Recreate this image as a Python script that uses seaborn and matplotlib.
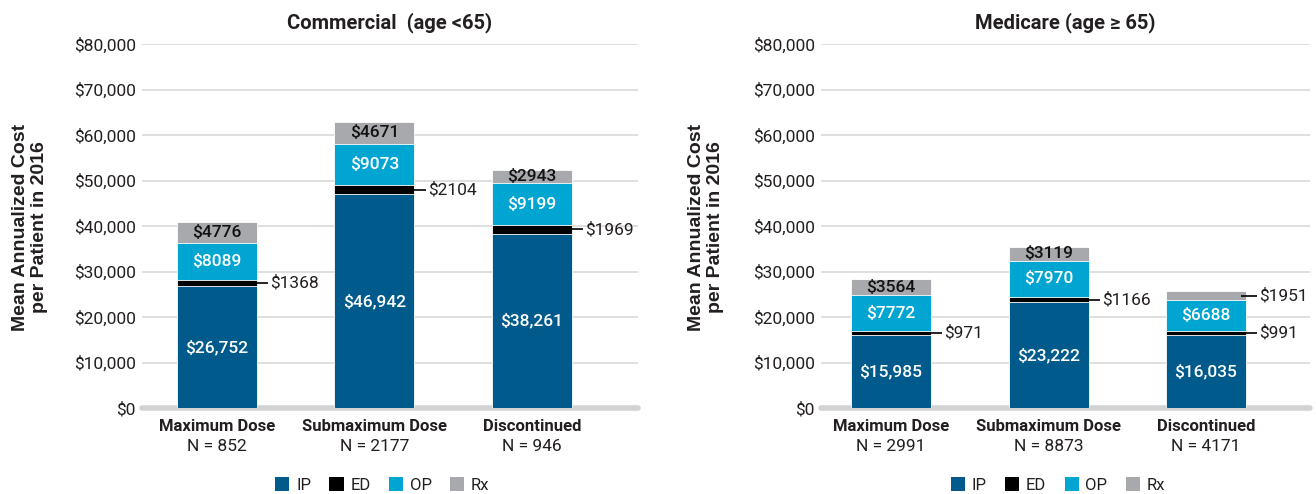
import matplotlib
matplotlib.use("Agg")
import matplotlib.pyplot as plt
import matplotlib.transforms as mtransforms
from matplotlib.patches import Patch
import numpy as np
import pandas as pd
import seaborn as sns

# ---------------- data ----------------
categories = ["Maximum Dose", "Submaximum Dose", "Discontinued"]
components = ["IP", "ED", "OP", "Rx"]

commercial_title = "Commercial  (age <65)"
commercial_n = [852, 2177, 946]
commercial_ip = [26752, 46942, 38261]
commercial_ed = [1368, 2104, 1969]
commercial_op = [8089, 9073, 9199]
commercial_rx = [4776, 4671, 2943]

medicare_title = "Medicare (age \u2265 65)"
medicare_n = [2991, 8873, 4171]
medicare_ip = [15985, 23222, 16035]
medicare_ed = [971, 1166, 991]
medicare_op = [7772, 7970, 6688]
medicare_rx = [3564, 3119, 1951]

y_ticks = [0, 10000, 20000, 30000, 40000, 50000, 60000, 70000, 80000]
y_label = "Mean Annualized Cost\nper Patient in 2016"

# ---------------- style ----------------
sns.set_theme(style="white")
plt.rcParams["font.family"] = ["Roboto", "DejaVu Sans"]

C_IP = "#005A8C"
C_ED = "#000000"
C_OP = "#00A5D1"
C_RX = "#A7A9AC"
colors = [C_IP, C_ED, C_OP, C_RX]
TXT = "#231F20"
GRID = "#DCDCDC"
ZERO = "#D2D3D5"
FS = 12.5

fig = plt.figure(figsize=(13.16, 4.94), dpi=100)
W, H = 1316, 494
ax_bottom = 1 - 408 / H
ax_height = 364 / H
ax_l = fig.add_axes([142 / W, ax_bottom, 496 / W, ax_height])
ax_r = fig.add_axes([821 / W, ax_bottom, 489 / W, ax_height])

BAR_W = 0.508


def draw_panel(ax, title, ns, ip, ed, op, rx, xlim, legend_x):
    df = pd.DataFrame({"cat": categories, "IP": ip, "ED": ed, "OP": op, "Rx": rx})
    layers = ["IP", "ED", "OP", "Rx"]
    cum = df[layers].cumsum(axis=1)
    # draw from the tallest cumulative layer down
    for layer, col in reversed(list(zip(layers, colors))):
        sns.barplot(data=pd.DataFrame({"cat": categories, "v": cum[layer]}),
                    x="cat", y="v", order=categories, color=col,
                    width=BAR_W, saturation=1, edgecolor="white",
                    linewidth=0.6, ax=ax, zorder=3)

    ax.set_xlim(*xlim)
    ax.set_ylim(0, 80000)
    ax.set_yticks(y_ticks)
    ax.set_yticklabels([f"${v:,}" for v in y_ticks], fontsize=FS, color=TXT)
    ax.tick_params(axis="y", length=0, pad=4.5)
    ax.set_xticks([])
    ax.set_xlabel("")
    ax.set_ylabel("")
    for s in ax.spines.values():
        s.set_visible(False)
    for v in y_ticks[1:]:
        ax.axhline(v, color=GRID, lw=1.3, zorder=1)
    ax.axhline(0, color=ZERO, lw=4, zorder=2, clip_on=False)

    ax.set_title(title, fontsize=14.5, fontweight="bold", color=TXT, pad=11)

    trans = mtransforms.blended_transform_factory(ax.transData, ax.transAxes)
    for i, (c, n) in enumerate(zip(categories, ns)):
        ax.text(i, -0.052, c, transform=trans, ha="center", va="center",
                fontsize=12, fontweight="bold", color=TXT)
        ax.text(i, -0.107, f"N = {n}", transform=trans, ha="center",
                va="center", fontsize=FS, color=TXT)

    half = BAR_W / 2
    lab = dict(fontsize=FS, fontweight="medium")
    for i in range(len(categories)):
        b_ip = 0
        b_ed = ip[i]
        b_op = ip[i] + ed[i]
        b_rx = b_op + op[i]
        # IP
        ax.text(i, b_ip + ip[i] / 2, f"${ip[i]:,}", ha="center", va="center",
                color="white", zorder=5, **lab)
        # OP
        ax.text(i, b_op + op[i] / 2, f"${op[i]}", ha="center", va="center",
                color="white", zorder=5, **lab)
        # ED (outside with leader)
        ym = b_ed + ed[i] / 2
        ax.plot([i + half - 0.03, i + half + 0.07], [ym, ym], color="black",
                lw=1.2, zorder=6, solid_capstyle="butt")
        ax.text(i + half + 0.085, ym, f"${ed[i]}", ha="left", va="center",
                color=TXT, fontsize=FS, zorder=6)
        # Rx
        ym = b_rx + rx[i] / 2
        if rx[i] < 2500:
            ax.plot([i + half - 0.03, i + half + 0.07], [ym, ym], color="black",
                    lw=1.2, zorder=6, solid_capstyle="butt")
            ax.text(i + half + 0.085, ym, f"${rx[i]}", ha="left", va="center",
                    color=TXT, fontsize=FS, zorder=6)
        else:
            ax.text(i, ym, f"${rx[i]}", ha="center", va="center",
                    color="#111111", zorder=5, **lab)

    handles = [Patch(facecolor=c, edgecolor="none") for c in colors]
    ax.legend(handles, components, loc="center",
              bbox_to_anchor=(legend_x, -0.2115), bbox_transform=trans,
              ncol=4, frameon=False, fontsize=12, handlelength=0.85,
              handleheight=0.85, handletextpad=0.4, columnspacing=1.1,
              labelcolor=TXT)


draw_panel(ax_l, commercial_title, commercial_n, commercial_ip, commercial_ed,
           commercial_op, commercial_rx, (-0.476, 2.673), 1.05)
draw_panel(ax_r, medicare_title, medicare_n, medicare_ip, medicare_ed,
           medicare_op, medicare_rx, (-0.445, 2.66), 1.06)

lab_font = dict(fontsize=14, fontweight="bold", color=TXT,
                family=["Liberation Sans", "DejaVu Sans"], linespacing=1.2)
fig.text(30 / W, 1 - 227 / H, y_label, rotation=90, ha="center", va="center",
         **lab_font)
fig.text(706 / W, 1 - 227 / H, y_label, rotation=90, ha="center", va="center",
         **lab_font)

fig.savefig("out.png", dpi=100)
